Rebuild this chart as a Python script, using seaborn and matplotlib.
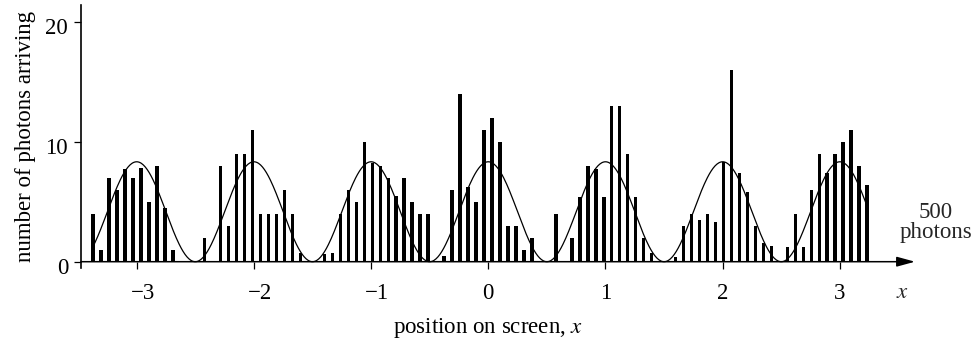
import numpy as np
import pandas as pd
import matplotlib
matplotlib.use("Agg")
import matplotlib.pyplot as plt
import matplotlib.transforms as mtransforms
import seaborn as sns

# Photon counts per detector bin, left to right across the screen (500 photons)
bin_counts = [
    4, 1, 7, 6, 7.75, 7, 7.8, 5, 8, 4.5, 1, 0, 0, 0, 2, 0,
    8, 3, 9, 9, 11, 4, 4, 4, 6, 4, 0.7, 0, 0, 0.65, 0.7, 4,
    6, 5, 10, 8.25, 8, 7, 5.5, 7, 5, 4, 4, 0, 0.5, 6, 14, 6.25,
    5, 11, 12, 10, 3, 3, 1, 2, 0, 0, 4, 0, 2, 5.4, 8, 7.75,
    5.4, 13, 13, 9, 5.4, 2, 0.7, 0, 0, 0.4, 3, 4, 3.5, 4, 3.3, 8.3,
    16, 7.4, 5.8, 3, 1.6, 1.3, 0, 1.25, 4, 1.25, 6, 9, 7.4, 9, 10, 11,
    8, 6.4,
]
first_bin_centre = -3.373
bin_width = 0.0681

# Expected fringe pattern: cos^2 with unit fringe spacing
fringe_peak = 8.33
fringe_spacing = 1.0

x_ticks = [-3, -2, -1, 0, 1, 2, 3]
x_tick_labels = ["\u22123", "\u22122", "\u22121", "0", "1", "2", "3"]
y_ticks = [0, 10, 20]

sns.set_theme(style="ticks")
plt.rcParams["font.family"] = ["Liberation Serif", "DejaVu Serif"]
plt.rcParams["mathtext.fontset"] = "stix"
FS = 16.5

n_bins = len(bin_counts)
centres = first_bin_centre + bin_width * np.arange(n_bins)
hist_df = pd.DataFrame({"position": centres, "photons": bin_counts})
lo = first_bin_centre - bin_width / 2
hi = lo + bin_width * n_bins

W, H = 977, 339
fig = plt.figure(figsize=(W / 100, H / 100), dpi=100)
ax = fig.add_axes([81 / W, (H - 267.7) / H, 834 / W, 262.7 / H])

sns.histplot(data=hist_df, x="position", weights="photons",
             binwidth=bin_width, binrange=(lo, hi), shrink=0.44,
             color="black", alpha=1, edgecolor="none", linewidth=0, ax=ax)

xs = np.linspace(centres[0], centres[-1], 800)
curve_df = pd.DataFrame({
    "position": xs,
    "expected": fringe_peak * np.cos(np.pi * xs / fringe_spacing) ** 2,
})
sns.lineplot(data=curve_df, x="position", y="expected", color="black",
             linewidth=0.9, sort=False, ax=ax)

ax.set_xlim(-3.475, 3.641)
ax.set_ylim(-0.5, 21.4)

for side in ("top", "right"):
    ax.spines[side].set_visible(False)
ax.spines["bottom"].set_position(("data", 0))
ax.spines["bottom"].set_visible(False)
ax.spines["left"].set_linewidth(1.2)
ax.spines["left"].set_color("black")

# x axis drawn as an arrow
ax.annotate("", xy=(1, 0), xycoords=("axes fraction", "data"),
            xytext=(0, 0), textcoords=("axes fraction", "data"),
            arrowprops=dict(arrowstyle="-|>,head_length=0.55,head_width=0.15",
                            mutation_scale=20, color="black", lw=1.1,
                            shrinkA=0, shrinkB=0),
            annotation_clip=False)

ax.set_xticks(x_ticks)
ax.set_xticklabels(x_tick_labels)
ax.set_yticks(y_ticks)
ax.tick_params(axis="x", direction="out", length=4.7, width=0.9, pad=10.4,
               labelsize=FS, colors="black")
ax.tick_params(axis="y", direction="out", length=5, width=0.9, pad=4.3,
               labelsize=FS, colors="black")

# centre the digit of negative labels on its tick, minus sign hanging left
for lbl in ax.get_xticklabels():
    if lbl.get_text().startswith("\u2212"):
        lbl.set_transform(lbl.get_transform() +
                          mtransforms.ScaledTranslation(0.06, 0, fig.dpi_scale_trans))
# y labels sit slightly below their ticks
for lbl in ax.get_yticklabels():
    lbl.set_transform(lbl.get_transform() +
                      mtransforms.ScaledTranslation(0, -0.045, fig.dpi_scale_trans))

ax.set_xlabel("position on screen, $x$", fontsize=FS, color="black")
ax.xaxis.set_label_coords((488 - 81) / 834, -(316.5 - 267.7) / 262.7)
ax.set_ylabel("number of photons arriving", fontsize=FS, color="black")
ax.yaxis.set_label_coords((36 - 81) / 834, 0.5)

fig.text(902 / W, 1 - 298 / H, "$x$", fontsize=FS, ha="center", va="baseline")
fig.text(936 / W, 1 - 218 / H, "500", fontsize=FS, ha="center", va="baseline")
fig.text(936 / W, 1 - 238 / H, "photons", fontsize=FS, ha="center", va="baseline")

fig.savefig("out.png", dpi=100, facecolor="white")
